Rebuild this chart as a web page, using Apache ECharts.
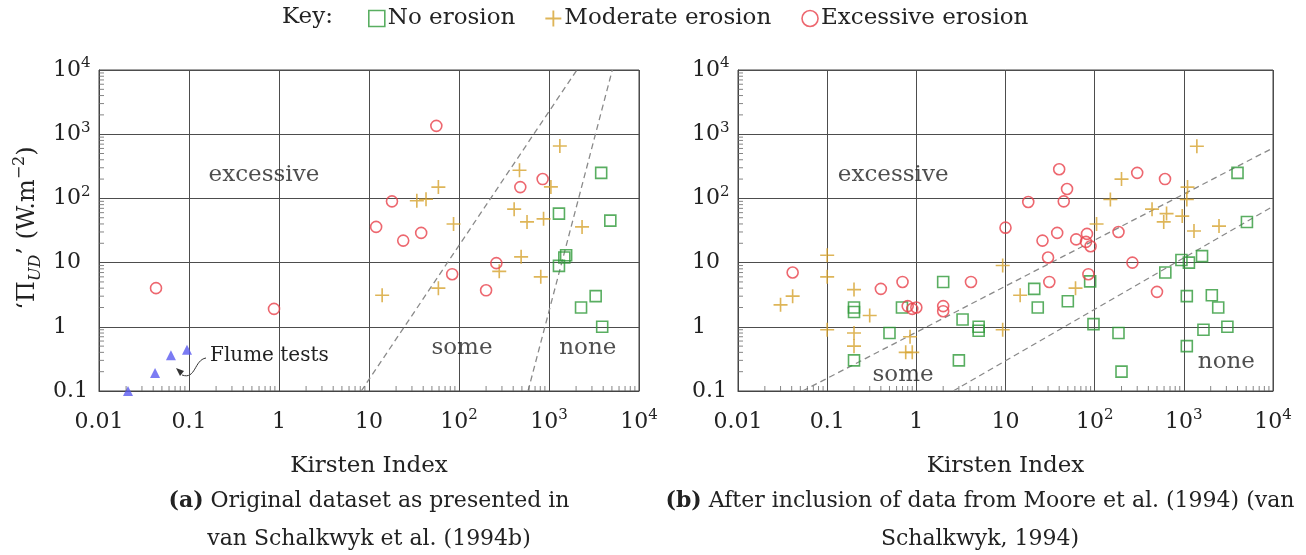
<!DOCTYPE html>
<html><head><meta charset="utf-8">
<script src="https://cdn.jsdelivr.net/npm/echarts@6/dist/echarts.min.js"></script>
<style>html,body{margin:0;padding:0;background:#fff}#c{width:1306px;height:555px}</style>
</head><body><div id="c"></div>
<script>
// ---------- tick labels ----------
const xTickLabels = ['0.01', '0.1', '1', '10', '10^2', '10^3', '10^4'];
const yTickLabels = ['0.1', '1', '10', '10^2', '10^3', '10^4'];
const minorMultipliers = [2, 3, 4, 5, 6, 7, 8, 9];

// ---------- panel (a): [Kirsten index, Pi_UD] ----------
const noErosionA = [[3800, 250], [1290, 58], [4800, 45], [1550, 13], [1480, 12], [1290, 8.9], [3300, 3], [2270, 2], [3900, 1]];
const moderateA = [[59, 150], [34, 92], [43, 97], [87, 40], [14, 3.1], [59, 4], [280, 7.3], [470, 275], [1320, 655], [1050, 151], [410, 68], [570, 43], [870, 48], [2330, 36], [490, 12.3], [810, 6]];
const excessiveA = [[56, 1350], [18, 90], [12, 36], [24, 22], [38, 29], [84, 6.6], [260, 9.8], [200, 3.7], [0.043, 4], [0.88, 1.9], [480, 150], [850, 200]];
const flumeA = [[0.021, 0.1], [0.042, 0.19], [0.063, 0.36], [0.095, 0.44]];
const boundary1A = [[8.2, 0.1], [2040, 10000]];
const boundary2A = [[585, 0.1], [5050, 10000]];

// ---------- panel (b) ----------
const noErosionB = [[4000, 250], [5100, 43], [1600, 12.6], [940, 11], [1140, 10], [620, 7], [1080, 3], [2060, 3.1], [2430, 2], [1660, 0.9], [3080, 1.0], [1080, 0.5], [200, 0.2], [185, 0.8], [97, 1.1], [89, 5.1], [50, 2.5], [23, 2], [21, 3.9], [5, 1.0], [5, 0.87], [3.3, 1.3], [3, 0.3], [2, 5], [0.69, 2.0], [0.5, 0.8], [0.2, 2.0], [0.2, 1.7], [0.2, 0.3]];
const moderateB = [[1400, 650], [200, 200], [1100, 150], [150, 96], [1080, 96], [440, 68], [640, 58], [595, 43], [960, 53], [1300, 31], [2480, 37], [105, 40], [9.3, 9], [9.3, 0.9], [14.6, 3.1], [61, 4], [0.03, 2.2], [0.041, 3], [0.1, 13], [0.1, 6], [0.1, 0.9], [0.2, 3.8], [0.3, 1.5], [0.2, 0.8], [0.2, 0.5], [0.85, 0.7], [0.76, 0.4], [0.9, 0.4]];
const excessiveB = [[40, 285], [49, 140], [300, 250], [615, 200], [18, 88], [45, 90], [10, 35], [26, 22], [38, 29], [62, 23], [82, 28], [80, 21], [90, 18], [30, 12], [31, 5], [85, 6.6], [185, 30], [265, 10], [500, 3.5], [0.041, 7], [0.4, 3.9], [0.7, 5], [0.8, 2.1], [0.9, 1.9], [1.0, 2.0], [2, 2.1], [2, 1.75], [4.1, 5]];
const boundary1B = [[0.053, 0.1], [10000, 610]];
const boundary2B = [[2.59, 0.1], [10000, 75]];

// ---------- region labels ----------
const regionNamesA = ['excessive', 'some', 'none'];
const regionPosA = [[0.68, 230], [108, 0.47], [2700, 0.47]];
const regionNamesB = ['excessive', 'some', 'none'];
const regionPosB = [[0.55, 230], [0.71, 0.18], [3000, 0.28]];

const seriesNames = ['No erosion', 'Moderate erosion', 'Excessive erosion'];

// ---------- styling ----------
const FONT = 'DejaVu Serif';
const TXT = '#222';
const GREEN = '#2f9a3a', GOLD = '#d6a22e', RED = '#e8414b', BLUE = '#5a5af0';
const PLUS = 'path://M5.3,0H6.7V5.3H12V6.7H6.7V12H5.3V6.7H0V5.3H5.3Z';
const X_MIN = 0.01, X_MAX = 10000, Y_MIN = 0.1, Y_MAX = 10000;

function fmt(s) {
  const p = s.split('^');
  return p.length > 1 ? '{b|' + p[0] + '}{s|' + p[1] + '}' : '{b|' + s + '}';
}
const labelRich = {
  b: { fontFamily: FONT, fontSize: 22, lineHeight: 28, color: TXT, verticalAlign: 'middle' },
  s: { fontFamily: FONT, fontSize: 15, lineHeight: 14, color: TXT, verticalAlign: 'top' }
};

function xAxis(gi) {
  return {
    type: 'log', logBase: 10, min: X_MIN, max: X_MAX, gridIndex: gi,
    axisLine: { show: true, lineStyle: { color: '#444', width: 1 } },
    axisTick: { show: false },
    splitLine: { show: true, lineStyle: { color: '#4d4d4d', width: 1 } },
    axisLabel: {
      margin: 17,
      formatter: v => fmt(xTickLabels[Math.round(Math.log10(v)) + 2]),
      rich: labelRich
    },
    name: 'Kirsten Index', nameLocation: 'middle', nameGap: 64,
    nameTextStyle: { fontFamily: FONT, fontSize: 23, color: TXT }
  };
}
function yAxis(gi) {
  return {
    type: 'log', logBase: 10, min: Y_MIN, max: Y_MAX, gridIndex: gi,
    axisLine: { show: true, lineStyle: { color: '#444', width: 1 } },
    axisTick: { show: false },
    splitLine: { show: true, lineStyle: { color: '#4d4d4d', width: 1 } },
    axisLabel: {
      margin: 46, align: 'left',
      formatter: v => fmt(yTickLabels[Math.round(Math.log10(v)) + 1]),
      rich: labelRich
    }
  };
}

// minor ticks of the log axes (2..9 in each decade), placed through the axes' own scales
const minorXTicks = [];
for (let d = Math.log10(X_MIN); d < Math.log10(X_MAX); d++) minorMultipliers.forEach(m => minorXTicks.push([+(m * Math.pow(10, d)).toPrecision(6), Y_MIN]));
const minorYTicks = [];
for (let d = Math.log10(Y_MIN); d < Math.log10(Y_MAX); d++) minorMultipliers.forEach(m => minorYTicks.push([X_MIN, +(m * Math.pow(10, d)).toPrecision(6)]));

function minorTickSeries(gi) {
  return [
    { type: 'scatter', xAxisIndex: gi, yAxisIndex: gi, silent: true, clip: false, z: 6,
      data: minorXTicks, symbol: 'rect', symbolSize: [1, 5], symbolOffset: [0, -2.5],
      itemStyle: { color: '#666' } },
    { type: 'scatter', xAxisIndex: gi, yAxisIndex: gi, silent: true, clip: false, z: 6,
      data: minorYTicks, symbol: 'rect', symbolSize: [5, 1], symbolOffset: [2.5, 0],
      itemStyle: { color: '#666' } }
  ];
}

function panelSeries(gi, noE, mod, exc, b1, b2, rNames, rPos) {
  return [
    { name: seriesNames[0], type: 'scatter', xAxisIndex: gi, yAxisIndex: gi, data: noE, symbol: 'rect', symbolSize: 11, clip: false,
      itemStyle: { color: 'transparent', borderColor: GREEN, borderWidth: 1.6 }, z: 5 },
    { name: seriesNames[1], type: 'scatter', xAxisIndex: gi, yAxisIndex: gi, data: mod, symbol: PLUS, symbolSize: 14, clip: false,
      itemStyle: { color: GOLD }, z: 5 },
    { name: seriesNames[2], type: 'scatter', xAxisIndex: gi, yAxisIndex: gi, data: exc, symbol: 'circle', symbolSize: 11, clip: false,
      itemStyle: { color: 'transparent', borderColor: RED, borderWidth: 1.6 }, z: 5 },
    { type: 'line', xAxisIndex: gi, yAxisIndex: gi, data: b1, symbol: 'none', silent: true,
      lineStyle: { color: '#8a8a8a', width: 1.3, type: [6, 4] }, z: 3 },
    { type: 'line', xAxisIndex: gi, yAxisIndex: gi, data: b2, symbol: 'none', silent: true,
      lineStyle: { color: '#8a8a8a', width: 1.3, type: [6, 4] }, z: 3 },
    { type: 'scatter', xAxisIndex: gi, yAxisIndex: gi, symbolSize: 0, silent: true,
      data: rNames.map((n, i) => ({ name: n, value: rPos[i] })),
      label: { show: true, position: 'inside', formatter: p => p.name, fontFamily: FONT, fontSize: 23, color: TXT }, z: 4 }
  ].concat(minorTickSeries(gi));
}

const chart = echarts.init(document.getElementById('c'), null, { renderer: 'canvas' });
const series = [].concat(
  panelSeries(0, noErosionA, moderateA, excessiveA, boundary1A, boundary2A, regionNamesA, regionPosA),
  panelSeries(1, noErosionB, moderateB, excessiveB, boundary1B, boundary2B, regionNamesB, regionPosB),
  [{ name: 'Flume tests', type: 'scatter', xAxisIndex: 0, yAxisIndex: 0, data: flumeA, symbol: 'triangle', symbolSize: 10, clip: false,
     itemStyle: { color: BLUE }, z: 5 }]
);

const capRich = { b: { fontWeight: 'bold', fontSize: 22, fontFamily: FONT, fill: TXT } };
const yTitleRich = {
  n: { fontFamily: FONT, fontSize: 24, lineHeight: 32, fill: TXT, verticalAlign: 'middle' },
  sub: { fontFamily: FONT, fontSize: 16, fontStyle: 'italic', lineHeight: 14, fill: TXT, verticalAlign: 'bottom' },
  sup: { fontFamily: FONT, fontSize: 16, lineHeight: 14, fill: TXT, verticalAlign: 'top' }
};
chart.setOption({
  animation: false,
  backgroundColor: '#fff',
  textStyle: { fontFamily: FONT },
  grid: [
    { left: 99, top: 70, width: 540, height: 321, show: true, borderColor: '#444', borderWidth: 1, backgroundColor: 'transparent' },
    { left: 738, top: 70, width: 535, height: 321, show: true, borderColor: '#444', borderWidth: 1, backgroundColor: 'transparent' }
  ],
  xAxis: [xAxis(0), xAxis(1)],
  yAxis: [yAxis(0), yAxis(1)],
  legend: {
    left: 368, top: 7, padding: 0, itemGap: 30, itemWidth: 16, itemHeight: 16,
    textStyle: { fontFamily: FONT, fontSize: 23, color: TXT, padding: [0, 0, 0, -2] },
    data: [
      { name: seriesNames[0], icon: 'rect', itemStyle: { color: 'transparent', borderColor: GREEN, borderWidth: 1.6 } },
      { name: seriesNames[1], icon: PLUS, itemStyle: { color: GOLD } },
      { name: seriesNames[2], icon: 'circle', itemStyle: { color: 'transparent', borderColor: RED, borderWidth: 1.6 } }
    ]
  },
  graphic: [
    { type: 'text', x: 282, y: 17, style: { text: 'Key:', font: '23px "DejaVu Serif"', fill: TXT, textVerticalAlign: 'middle' } },
    { type: 'text', x: 28, y: 228, rotation: Math.PI / 2,
      style: { text: '{n|\u2018\u03A0}{sub|UD}{n|\u2019 (W.m}{sup|\u22122}{n|)}', rich: yTitleRich, font: '24px "DejaVu Serif"', fill: TXT, textAlign: 'center', textVerticalAlign: 'middle' } },
    { type: 'text', x: 210, y: 356, style: { text: 'Flume tests', font: '20px "DejaVu Serif"', fill: TXT, textVerticalAlign: 'middle' } },
    { type: 'bezierCurve', shape: { x1: 206, y1: 358, x2: 182, y2: 375, cpx1: 194, cpy1: 360, cpx2: 196, cpy2: 380 },
      style: { stroke: '#333', lineWidth: 1, fill: null } },
    { type: 'polygon', shape: { points: [[176, 368], [184, 371], [180, 376]] }, style: { fill: '#333' } },
    { type: 'text', x: 369, y: 501, style: { text: '{b|(a)} Original dataset as presented in', rich: capRich, font: '22px "DejaVu Serif"', fill: TXT, textAlign: 'center', textVerticalAlign: 'middle' } },
    { type: 'text', x: 369, y: 539, style: { text: 'van Schalkwyk et al. (1994b)', font: '22px "DejaVu Serif"', fill: TXT, textAlign: 'center', textVerticalAlign: 'middle' } },
    { type: 'text', x: 980, y: 501, style: { text: '{b|(b)} After inclusion of data from Moore et al. (1994) (van', rich: capRich, font: '22px "DejaVu Serif"', fill: TXT, textAlign: 'center', textVerticalAlign: 'middle' } },
    { type: 'text', x: 980, y: 539, style: { text: 'Schalkwyk, 1994)', font: '22px "DejaVu Serif"', fill: TXT, textAlign: 'center', textVerticalAlign: 'middle' } }
  ],
  series: series
});
</script></body></html>
